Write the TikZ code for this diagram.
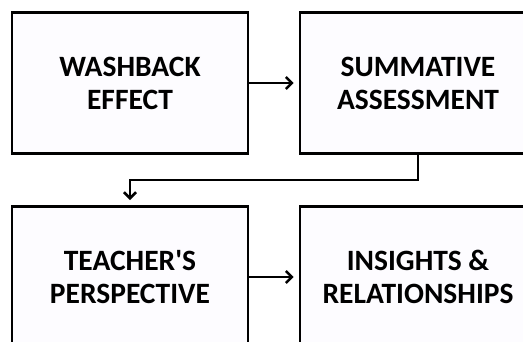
\documentclass[tikz,border=0pt]{standalone}
\usepackage{fontspec}
\setmainfont{Carlito}
\usetikzlibrary{arrows.meta}
\definecolor{boxfill}{HTML}{FDFCFF}
\begin{document}
\begin{tikzpicture}[x=1pt,y=-1pt,
  stagebox/.style={draw=black,line width=2.6pt,fill=boxfill,minimum width=236pt,minimum height=141pt,
    align=center,font=\fontsize{29.5}{33}\selectfont\bfseries,inner sep=0pt},
  conn/.style={line width=2.5pt,-{Straight Barb[length=6pt,width=12pt,line width=2.5pt]}}]
\useasboundingbox (0,0) rectangle (523,341);
\clip (0,0) rectangle (523,341);
\node[stagebox] (wash) at (130,83) {WASHBACK\\EFFECT};
\node[stagebox] (summ) at (418,83) {SUMMATIVE\\ASSESSMENT};
\node[stagebox] (teach) at (130,277) {TEACHER\textquotesingle S\\PERSPECTIVE};
\node[stagebox] (ins) at (418,277) {INSIGHTS \&\\RELATIONSHIPS};
\draw[conn] (wash.east) -- ([xshift=-5pt]summ.west);
\draw[conn] (teach.east) -- ([xshift=-5pt]ins.west);
\coordinate (bend) at (418,180);
\coordinate (turn) at (130,180);
\coordinate (tip) at (130,200);
\draw[conn] (summ.south) -- (bend) -- (turn) -- (tip);
\end{tikzpicture}
\end{document}
